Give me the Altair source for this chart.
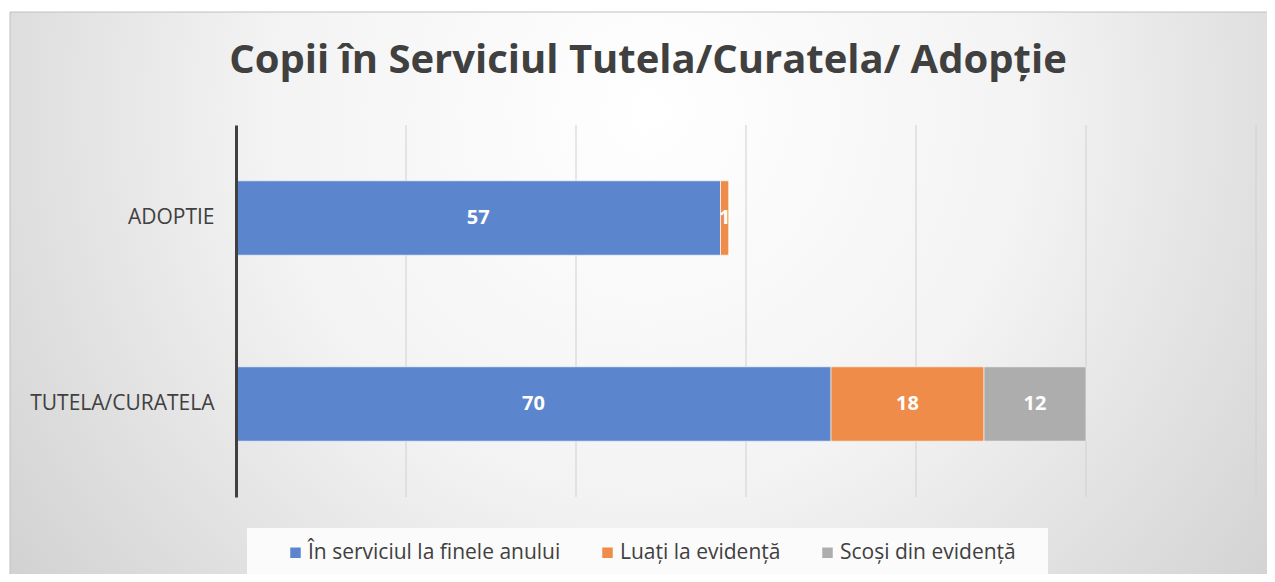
import altair as alt
import pandas as pd

categories = ["ADOPTIE", "TUTELA/CURATELA"]
series_names = ["În serviciul la finele anului", "Luați la evidență", "Scoși din evidență"]
in_serviciu = [57, 70]
luati = [1, 18]
scosi = [0, 12]
colors = ["#5B86CD", "#EF8C4A", "#ADADAD"]
grid_values = [20, 40, 60, 80, 100, 120]

rows = []
for i, c in enumerate(categories):
    for k, (name, vals) in enumerate(zip(series_names, [in_serviciu, luati, scosi])):
        rows.append({"cat": c, "series": name, "order": k, "value": vals[i]})
df = pd.DataFrame(rows)

W, H = 1020, 372
PL, PT, PR, PB = 228, 117, 11, 77
FONT = "Open Sans"
TXT = "#404040"

xscale = alt.Scale(domain=[0, 120], nice=False)

bg = alt.Chart(pd.DataFrame({"a": [0]})).mark_rect(
    color={
        "gradient": "radial",
        "x1": 0.5, "y1": 0.35, "r1": 0.0,
        "x2": 0.5, "y2": 0.35, "r2": 0.75,
        "stops": [
            {"offset": 0, "color": "#ffffff"},
            {"offset": 0.4, "color": "#f3f3f3"},
            {"offset": 1, "color": "#c4c4c4"},
        ],
    },
    stroke="#c0c0c0", strokeWidth=1,
).encode(x=alt.value(-226), x2=alt.value(W + PR + 20), y=alt.value(-113), y2=alt.value(H + PB + 20))

legend_box = alt.Chart(pd.DataFrame({"a": [0]})).mark_rect(color="#fbfbfb").encode(
    x=alt.value(11), x2=alt.value(812), y=alt.value(403), y2=alt.value(450)
)

grid = alt.Chart(pd.DataFrame({"g": grid_values})).mark_rule(color="#d0d0d0", strokeWidth=1).encode(
    x=alt.X("g:Q", scale=xscale, axis=None)
)

base = alt.Chart(df).transform_stack(
    stack="value", groupby=["cat"], as_=["x0", "x1"], sort=[alt.SortField("order")]
).transform_calculate(mid="(datum.x0 + datum.x1) / 2")

yenc = alt.Y("cat:N", sort=categories,
             scale=alt.Scale(paddingInner=0.6, paddingOuter=0.3),
             axis=alt.Axis(title=None, domainColor=TXT, domainWidth=3, ticks=False,
                           labelFontSize=21, labelFont=FONT, labelColor=TXT, labelLimit=400,
                           labelPadding=22, grid=False, zindex=1))

bars = base.mark_bar(stroke="#ffffff", strokeOpacity=0.6, strokeWidth=1).encode(
    x=alt.X("x0:Q", scale=xscale, axis=None),
    x2="x1:Q",
    y=yenc,
    color=alt.Color("series:N", sort=series_names,
                    scale=alt.Scale(domain=series_names, range=colors),
                    legend=alt.Legend(title=None, orient="none", legendX=49, legendY=417,
                                      direction="horizontal", symbolType="square",
                                      symbolSize=110, symbolStrokeWidth=0,
                                      labelFontSize=21, labelFont=FONT, labelColor=TXT,
                                      labelLimit=500, columnPadding=36, labelOffset=2,
                                      padding=0)),
    order=alt.Order("order:Q"),
)

labels = base.transform_filter("datum.value > 0").mark_text(
    color="white", fontWeight="bold", fontSize=20, font=FONT
).encode(
    x=alt.X("mid:Q", scale=xscale, axis=None),
    y=alt.Y("cat:N", sort=categories),
    text="value:Q",
)

chart = alt.layer(bg, legend_box, grid, bars, labels).properties(
    width=W, height=H,
    padding={"left": PL, "top": PT, "right": PR, "bottom": PB},
    autosize=alt.AutoSizeParams(type="none"),
    background="white",
    title=alt.TitleParams("Copii în Serviciul Tutela/Curatela/ Adopție", fontSize=40,
                          font=FONT, fontWeight="bold", color=TXT, anchor="middle",
                          dx=-98, offset=-101, baseline="alphabetic"),
).configure_view(strokeWidth=0)

chart.save("out.html", embed_options={"renderer": "svg", "actions": False})
